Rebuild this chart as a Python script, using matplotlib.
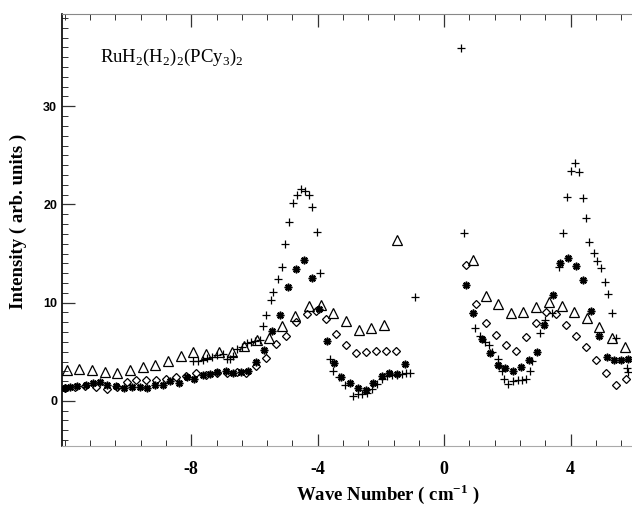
import matplotlib
matplotlib.use("Agg")
import matplotlib.pyplot as plt
from matplotlib.ticker import MultipleLocator, FixedLocator

plt.rcParams['mathtext.fontset'] = 'custom'
plt.rcParams['mathtext.rm'] = 'Liberation Serif'
plt.rcParams['mathtext.bf'] = 'Liberation Serif:bold'
plt.rcParams['axes.unicode_minus'] = False

# plus (+) series
plus_x = [-7.93, -7.78, -7.64, -7.49, -7.35, -7.19, -7.0, -6.88, -6.77, -6.67, -6.54, -6.4,
          -6.24, -6.12, -5.98, -5.84, -5.74, -5.63, -5.48, -5.4, -5.26, -5.13, -5.03, -4.9,
          -4.77, -4.64, -4.53, -4.4, -4.27, -4.17, -4.03, -3.92, -3.61, -3.5, -3.31, -3.13,
          -2.87, -2.74, -2.6, -2.45, -2.29, -2.13, -1.97, -1.81, -1.66, -1.5, -1.34, -1.2,
          -1.08, -0.92,
          0.53, 0.63, 0.91, 0.98, 1.14, 1.3, 1.43, 1.51, 1.69, 1.75, 1.83, 1.91, 2.03, 2.19,
          2.33, 2.46, 2.59, 2.72, 2.77, 3.04, 3.2, 3.41, 3.65, 3.76, 3.9, 4.02, 4.15, 4.27,
          4.38, 4.49, 4.6, 4.73, 4.85, 4.96, 5.09, 5.19, 5.31, 5.44, 5.78, 5.83]
plus_y = [4.1, 4.1, 4.2, 4.4, 4.5, 4.7, 4.75, 4.25, 4.3, 4.55, 5.3, 5.5,
          5.85, 6.0, 6.1, 6.15, 7.6, 8.7, 10.3, 11.1, 12.4, 13.6, 16.0, 18.2,
          20.1, 21.0, 21.55, 21.4, 21.0, 19.7, 17.2, 13.0, 4.3, 3.05, 2.4, 1.6,
          0.5, 0.65, 0.65, 0.8, 1.25, 1.75, 2.25, 2.5, 2.6, 2.6, 2.7, 2.8,
          2.85, 10.6,
          35.9, 17.1, 8.9, 7.45, 6.6, 6.0, 5.7, 5.0, 4.3, 3.5, 3.05, 2.25, 1.75, 2.0,
          2.1, 2.15, 2.25, 3.0, 4.05, 6.9, 8.2, 8.95, 13.65, 17.05, 20.8, 23.4, 24.2, 23.3,
          20.7, 18.6, 16.2, 15.1, 14.2, 13.5, 12.1, 10.9, 8.9, 6.45, 3.3, 2.95]

# asterisk series
star_x = [-11.99, -11.84, -11.62, -11.33, -11.12, -10.89, -10.66, -10.38, -10.14, -9.88,
          -9.63, -9.4, -9.15, -8.9, -8.66, -8.4, -8.15, -7.91, -7.62, -7.41, -7.17, -6.9,
          -6.67, -6.43, -6.22, -5.95, -5.7, -5.44, -5.19, -4.94, -4.68, -4.43, -4.19, -3.95,
          -3.71, -3.49, -3.26, -2.97, -2.73, -2.48, -2.24, -1.97, -1.73, -1.5, -1.25,
          0.7, 0.93, 1.19, 1.46, 1.7, 1.94, 2.19, 2.43, 2.68, 2.93, 3.16, 3.44, 3.67, 3.93,
          4.18, 4.41, 4.65, 4.91, 5.15, 5.38, 5.59, 5.83]
star_y = [1.3, 1.4, 1.55, 1.65, 1.8, 1.9, 1.65, 1.5, 1.3, 1.38,
          1.4, 1.35, 1.6, 1.58, 2.05, 1.82, 2.45, 2.25, 2.6, 2.7, 2.95, 3.05,
          2.85, 2.9, 3.05, 3.95, 5.15, 7.1, 8.75, 11.6, 13.4, 14.3, 12.5, 9.4,
          6.1, 3.85, 2.4, 1.82, 1.3, 1.07, 1.82, 2.53, 2.84, 2.7, 3.8,
          11.8, 8.95, 6.3, 4.9, 3.7, 3.35, 3.05, 3.45, 4.13, 5.0, 7.7, 10.75, 14.05, 14.55,
          13.75, 12.3, 9.2, 6.6, 4.45, 4.2, 4.2, 4.3]

# diamond series
diam_x = [-11.98, -11.67, -11.35, -11.02, -10.67, -10.35, -10.04, -9.75, -9.43, -9.12,
          -8.8, -8.48, -8.16, -7.85, -7.52, -7.2, -6.88, -6.56, -6.26, -5.95, -5.64, -5.33,
          -5.0, -4.68, -4.35, -4.05, -3.73, -3.42, -3.1, -2.78, -2.47, -2.15, -1.84, -1.52,
          0.7, 1.01, 1.33, 1.65, 1.96, 2.28, 2.59, 2.91, 3.23, 3.54, 3.86, 4.18, 4.49, 4.81,
          5.13, 5.44, 5.76]
diam_y = [1.35, 1.45, 1.55, 1.4, 1.25, 1.45, 1.9, 2.15, 2.1, 2.1,
          2.2, 2.4, 2.5, 2.8, 2.65, 2.8, 2.8, 2.9, 2.8, 3.5, 4.35, 5.75,
          6.65, 8.0, 8.8, 9.15, 8.3, 6.85, 5.65, 4.9, 5.0, 5.05, 5.1, 5.1,
          13.8, 9.9, 7.9, 6.75, 5.7, 5.1, 6.5, 7.95, 9.05, 8.8, 7.7, 6.6, 5.45, 4.15,
          2.8, 1.65, 2.2]

# triangle series
tri_x = [-11.94, -11.54, -11.13, -10.74, -10.34, -9.94, -9.53, -9.14, -8.74, -8.33, -7.93,
         -7.53, -7.13, -6.72, -6.32, -5.91, -5.53, -5.12, -4.72, -4.29, -3.9, -3.5, -3.1,
         -2.69, -2.3, -1.91, -1.5,
         0.93, 1.32, 1.72, 2.11, 2.51, 2.91, 3.32, 3.72, 4.11, 4.52, 4.91, 5.3, 5.71]
tri_y = [3.1, 3.2, 3.1, 2.9, 2.8, 3.1, 3.4, 3.7, 4.1, 4.6, 5.0,
         4.8, 4.95, 4.95, 5.6, 6.2, 6.45, 7.6, 8.65, 9.7, 9.8, 8.95, 8.1,
         7.25, 7.45, 7.75, 16.4,
         14.3, 10.65, 9.85, 8.9, 9.0, 9.55, 10.1, 9.7, 9.0, 8.4, 7.5, 6.35, 5.5]

x_ticks = [-8, -4, 0, 4]

fig = plt.figure(figsize=(6.32, 5.12), dpi=100)
# the original frame runs past the right edge of the picture
ax = fig.add_axes([62 / 632, 66 / 512, 652 / 632, 432 / 512])

ax.plot(tri_x, tri_y, linestyle='none', marker='^', markersize=6.5, mfc='none',
        mec='black', mew=0.9)
ax.plot(diam_x, diam_y, linestyle='none', marker='D', markersize=4.5, mfc='none',
        mec='black', mew=0.9)
ax.plot(star_x, star_y, linestyle='none', marker=(8, 2, 0), markersize=5.5,
        color='black', mew=1.1)
ax.plot(star_x, star_y, linestyle='none', marker='s', markersize=2.6, color='black')
ax.plot(plus_x, plus_y, linestyle='none', marker='+', markersize=6, color='black', mew=0.9)

ax.set_xlim(-12.09, 8.54)
ax.set_ylim(-4.6, 39.4)

ax.xaxis.set_major_locator(FixedLocator(x_ticks))
ax.xaxis.set_minor_locator(MultipleLocator(0.8))
ax.yaxis.set_major_locator(MultipleLocator(10))
ax.yaxis.set_minor_locator(MultipleLocator(1))
ax.tick_params(which='both', direction='in', top=True, right=False, color='#333333')
ax.tick_params(which='major', length=9, width=0.9)
ax.tick_params(which='minor', length=4, width=0.7)
ax.tick_params(axis='x', which='major', pad=11)

ax.spines['right'].set_visible(False)
ax.spines['top'].set_color('#888888')
ax.spines['bottom'].set_color('#aaaaaa')
ax.spines['left'].set_linewidth(1.2)

for lab in ax.get_xticklabels():
    lab.set_fontfamily('Liberation Serif')
    lab.set_fontweight('bold')
    lab.set_fontsize(13)
for lab in ax.get_yticklabels():
    lab.set_fontfamily('Liberation Sans')
    lab.set_fontweight('bold')
    lab.set_fontsize(9)

ax.set_xlabel(r'Wave Number ( cm$^{\mathbf{-1}}$ )', fontfamily='Liberation Serif',
              fontweight='bold', fontsize=13.5)
ax.set_ylabel('Intensity ( arb. units )', fontfamily='Liberation Serif',
              fontweight='bold', fontsize=13.5)
ax.xaxis.set_label_coords(0.5, -0.083)
ax.yaxis.set_label_coords(-0.053, 0.52)

ax.text(0.058, 0.9, r'RuH$_2$(H$_2$)$_2$(PCy$_3$)$_2$', transform=ax.transAxes,
        fontfamily='Liberation Serif', fontsize=13.5, ha='left', va='center')

fig.savefig('out.png', dpi=100)
